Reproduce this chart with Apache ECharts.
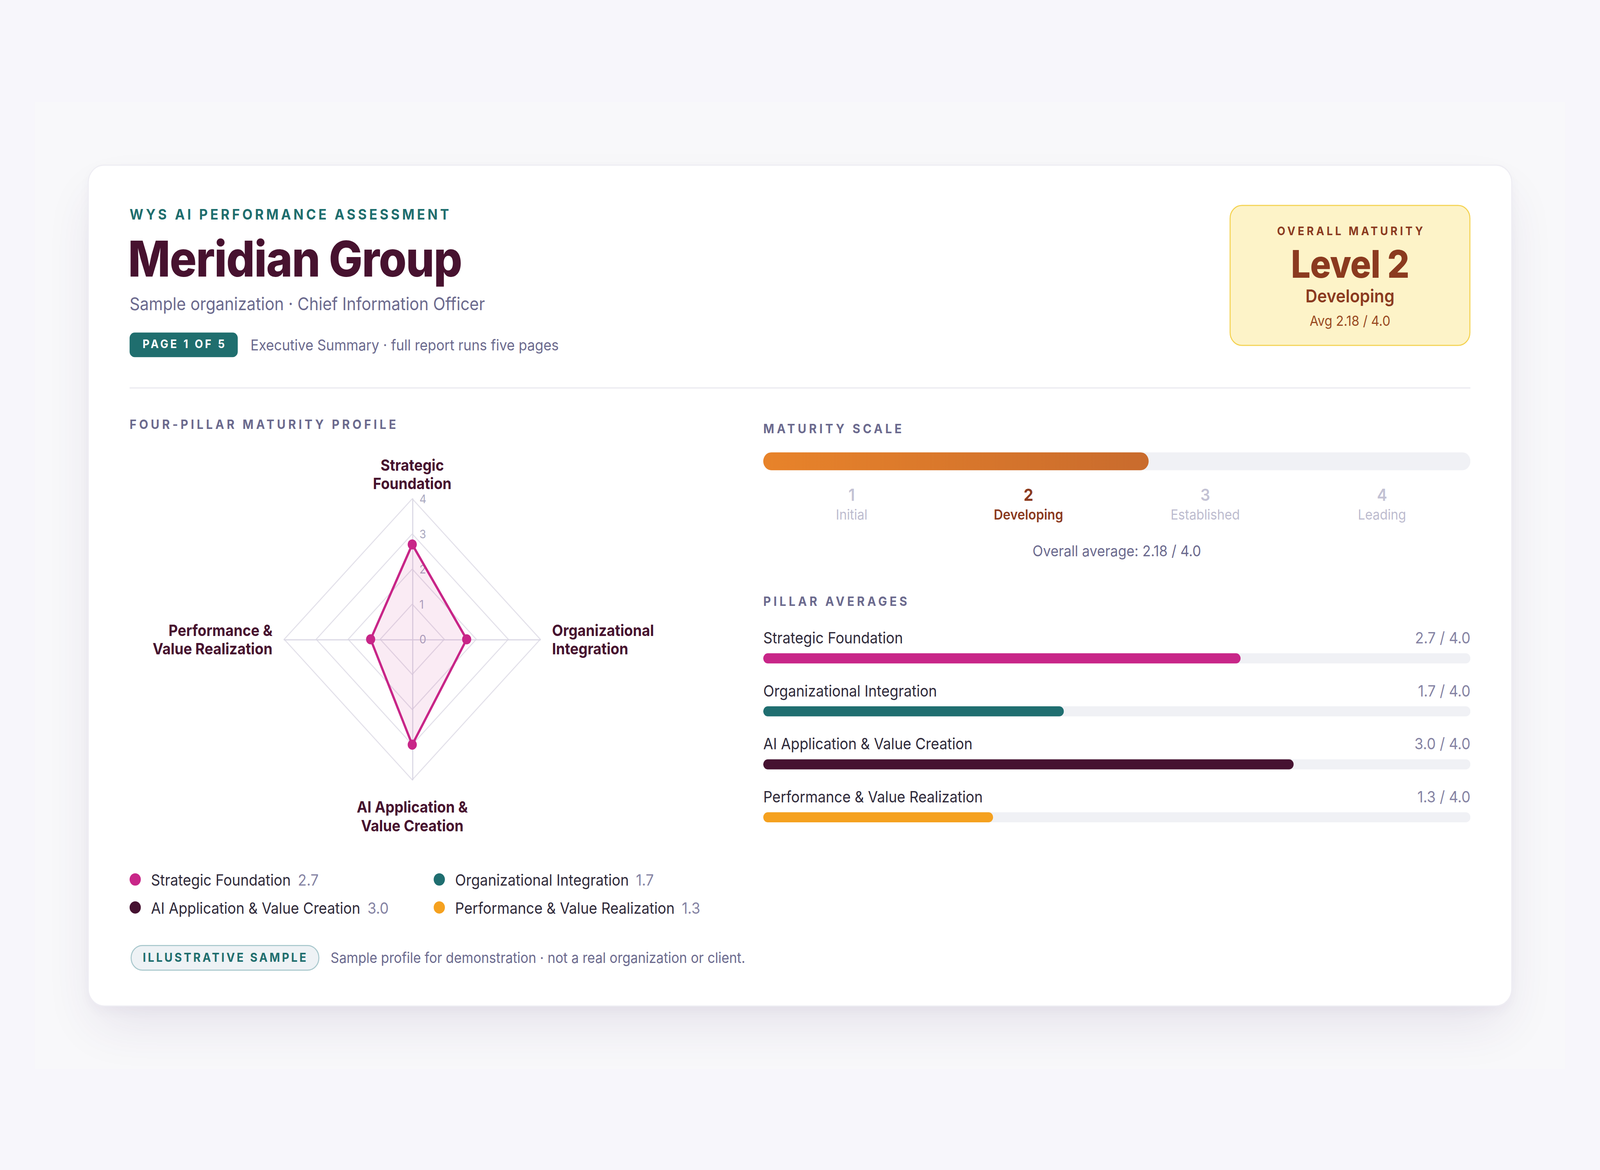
<!DOCTYPE html>
<html>
<head>
<meta charset="utf-8">
<title>Meridian Group — WYS AI Performance Assessment</title>
<script src="https://cdn.jsdelivr.net/npm/echarts@6.0.0/dist/echarts.min.js"></script>
<style>
  html, body { margin:0; padding:0; width:100%; height:100%; overflow:hidden; background:#f7f6fb; }
  #stage { position:absolute; left:0; top:0; width:1568px; height:1045px; transform-origin:0 0; font-family:Inter,'Noto Sans',sans-serif; }
  .a { position:absolute; white-space:nowrap; }
  #panel { left:34px; top:91px; width:1500px; height:864px; background:#f8f8fa; }
  #card { left:86px; top:147px; width:1394px; height:750px; background:#fff; border:1px solid #eeedf3; border-radius:16px; box-shadow:0 22px 48px -8px rgba(75,45,105,0.11), 0 4px 10px rgba(75,45,105,0.03); }
  .eyebrow { left:127px; top:182.6px; font-size:13px; line-height:16px; font-weight:700; letter-spacing:2.45px; color:#1f6e6e; }
  .title { left:125.5px; top:209px; font-size:44px; line-height:44px; font-weight:800; letter-spacing:-0.7px; color:#47122f; }
  .sub { left:127px; top:263.2px; font-size:15.7px; line-height:18px; color:#6b6a8e; }
  .badge { left:127px; top:297.3px; width:106px; height:21.3px; line-height:21.3px; background:#1f6e6e; border-radius:5px; color:#fff; font-size:10.5px; font-weight:700; letter-spacing:2px; text-align:center; text-indent:2px; }
  .exec { left:245.5px; top:299.7px; font-size:13.5px; line-height:17px; color:#6b6a8e; }
  .divider { left:127px; top:345.5px; width:1314px; height:1px; background:#e9e8ef; }
  #mbox { left:1205px; top:182.7px; width:233.5px; height:124px; background:#fdf3c8; border:1.5px solid #f4d250; border-radius:12px; }
  .mtxt { left:1205px; width:236px; text-align:center; color:#8b3a1f; }
  .m1 { top:199.8px; font-size:10.5px; line-height:14px; font-weight:700; letter-spacing:2.4px; text-indent:2.4px; }
  .m2 { top:216.5px; font-size:34px; line-height:38px; font-weight:800; letter-spacing:-0.4px; }
  .m3 { top:254.5px; font-size:16px; line-height:19px; font-weight:600; }
  .m4 { top:279px; font-size:12.5px; line-height:16px; color:#9a4a22; }
  .sect { font-size:11.5px; line-height:14px; font-weight:700; letter-spacing:2.6px; color:#6b6a8e; }
  #radar { left:100px; top:390px; width:610px; height:370px; }
  #scale { left:748px; top:395px; width:693px; height:82px; }
  #pillars { left:748px; top:545px; width:693px; height:215px; }
  .avg { left:748px; width:693px; top:483.8px; text-align:center; font-size:13.5px; line-height:16px; color:#6b6a8e; }
  .lg { position:absolute; display:flex; align-items:center; height:20px; white-space:nowrap; font-size:14px; color:#2f2a3a; }
  .lg .dot { width:11px; height:11px; border-radius:50%; margin-right:10px; flex:none; }
  .lg .val { margin-left:7px; color:#8583a3; }
  .pill { left:127.5px; top:843.8px; width:183px; height:21px; line-height:21px; border:1.3px solid #a9c8cd; background:#eef2f5; border-radius:12px; text-align:center; font-size:11px; font-weight:700; letter-spacing:1.9px; text-indent:1.9px; color:#1f6e6e; }
  .note { left:324px; top:847px; font-size:13px; line-height:16px; color:#6b6a8e; }
</style>
</head>
<body>
<div id="stage">
  <div class="a" id="panel"></div>
  <div class="a" id="card"></div>

  <div class="a eyebrow">WYS AI PERFORMANCE ASSESSMENT</div>
  <div class="a title">Meridian Group</div>
  <div class="a sub">Sample organization · Chief Information Officer</div>
  <div class="a badge">PAGE 1 OF 5</div>
  <div class="a exec">Executive Summary · full report runs five pages</div>
  <div class="a divider"></div>

  <div class="a" id="mbox"></div>
  <div class="a mtxt m1">OVERALL MATURITY</div>
  <div class="a mtxt m2" id="mLevel"></div>
  <div class="a mtxt m3" id="mName"></div>
  <div class="a mtxt m4" id="mAvg"></div>

  <div class="a sect" style="left:127px;top:371.5px;">FOUR-PILLAR MATURITY PROFILE</div>
  <div class="a sect" style="left:748px;top:375.9px;">MATURITY SCALE</div>
  <div class="a sect" style="left:748px;top:530.3px;">PILLAR AVERAGES</div>

  <div class="a" id="radar"></div>
  <div class="a" id="scale"></div>
  <div class="a avg" id="avgLine"></div>
  <div class="a" id="pillars"></div>

  <div id="legend"></div>

  <div class="a pill">ILLUSTRATIVE SAMPLE</div>
  <div class="a note">Sample profile for demonstration · not a real organization or client.</div>
</div>

<script>
// ---------------- DATA ----------------
const PILLARS = ['Strategic Foundation', 'Organizational Integration', 'AI Application & Value Creation', 'Performance & Value Realization'];
const RADAR_NAMES = ['Strategic\nFoundation', 'Organizational\nIntegration', 'AI Application &\nValue Creation', 'Performance &\nValue Realization'];
const SCORES = [2.7, 1.7, 3.0, 1.3];
const PILLAR_COLORS = ['#c82688', '#1f6e70', '#461231', '#f5a11f'];
const SCALE_MIN = 0;
const SCALE_MAX = 4;
const LEVELS = ['1', '2', '3', '4'];
const LEVEL_NAMES = ['Initial', 'Developing', 'Established', 'Leading'];
const OVERALL_AVG = 2.18;
const CURRENT_LEVEL = 2;

// ---------------- FIT STAGE TO THE WINDOW FRAME ----------------
const stage = document.getElementById('stage');
const sx = window.innerWidth / 1568;
const sy = window.innerHeight / 1045;
stage.style.transform = 'scale(' + sx + ',' + sy + ')';

// ---------------- TEXT ----------------
document.getElementById('mLevel').textContent = 'Level ' + CURRENT_LEVEL;
document.getElementById('mName').textContent = LEVEL_NAMES[CURRENT_LEVEL - 1];
document.getElementById('mAvg').textContent = 'Avg ' + OVERALL_AVG.toFixed(2) + ' / ' + SCALE_MAX.toFixed(1);
document.getElementById('avgLine').textContent = 'Overall average: ' + OVERALL_AVG.toFixed(2) + ' / ' + SCALE_MAX.toFixed(1);

// legend (2 x 2)
const legendPos = [[127, 775.4], [425, 775.4], [127, 800.4], [425, 800.4]];
const legendEl = document.getElementById('legend');
PILLARS.forEach((p, i) => {
  const d = document.createElement('div');
  d.className = 'lg';
  d.style.left = legendPos[i][0] + 'px';
  d.style.top = legendPos[i][1] + 'px';
  d.innerHTML = '<span class="dot" style="background:' + PILLAR_COLORS[i] + '"></span><span></span><span class="val"></span>';
  d.children[1].textContent = p;
  d.children[2].textContent = SCORES[i].toFixed(1);
  legendEl.appendChild(d);
});

const FONT = 'Inter';

// ---------------- RADAR ----------------
// ECharts places indicators counter-clockwise from the top; order so that pillars run clockwise.
const RADAR_ORDER = [0, 3, 2, 1];
const NAME_GAPS = [5.5, 11.5, 16, 11.5]; // top, left, bottom, right
const radarChart = echarts.init(document.getElementById('radar'), null, { renderer: 'svg' });
radarChart.setOption({
  animation: false,
  radar: {
    center: [304, 181],
    radius: 125.5,
    startAngle: 90,
    shape: 'polygon',
    splitNumber: 4,
    axisName: { color: '#47122f', fontSize: 14, fontWeight: 700, fontFamily: FONT, lineHeight: 16.5 },
    axisLine: { lineStyle: { color: '#d8d6e3', width: 1 } },
    splitLine: { lineStyle: { color: '#e3e1ea', width: 1 } },
    splitArea: { show: false },
    axisTick: { show: false },
    axisLabel: { show: false },
    indicator: RADAR_ORDER.map((idx, k) => {
      const ind = { name: RADAR_NAMES[idx], min: SCALE_MIN, max: SCALE_MAX, nameGap: NAME_GAPS[k], nameMoveOverlap: false };
      if (k === 0) {
        ind.axisLabel = { show: true, color: '#a9a8c0', fontSize: 10.5, lineHeight: 11, fontFamily: FONT, margin: -7, align: 'left', verticalAlign: 'middle' };
      }
      return ind;
    })
  },
  series: [{
    type: 'radar',
    silent: true,
    symbol: 'circle',
    symbolSize: 9,
    lineStyle: { color: PILLAR_COLORS[0], width: 2.2 },
    itemStyle: { color: PILLAR_COLORS[0] },
    areaStyle: { color: 'rgba(200,38,136,0.13)' },
    data: [{ name: 'Meridian Group', value: RADAR_ORDER.map(i => SCORES[i]) }]
  }]
});

// ---------------- MATURITY SCALE ----------------
const scaleChart = echarts.init(document.getElementById('scale'), null, { renderer: 'svg' });
scaleChart.setOption({
  animation: false,
  grid: { left: 0, right: 0, top: 9, height: 16, outerBoundsMode: 'none' },
  xAxis: [
    { type: 'value', min: SCALE_MIN, max: SCALE_MAX, show: false },
    {
      type: 'category', data: LEVELS, position: 'bottom', boundaryGap: true,
      axisLine: { show: false, onZero: false }, axisTick: { show: false }, splitLine: { show: false },
      axisLabel: {
        interval: 0, margin: 13, fontFamily: FONT,
        formatter: (v, i) => (i === CURRENT_LEVEL - 1)
          ? '{na|' + v + '}\n{ta|' + LEVEL_NAMES[i] + '}'
          : '{n|' + v + '}\n{t|' + LEVEL_NAMES[i] + '}',
        rich: {
          n: { fontSize: 15, fontWeight: 600, lineHeight: 18, color: '#c3c2d4', fontFamily: FONT, align: 'center' },
          t: { fontSize: 12.5, lineHeight: 17, color: '#bdbccf', fontFamily: FONT, align: 'center' },
          na: { fontSize: 15, fontWeight: 700, lineHeight: 18, color: '#8b3a1f', fontFamily: FONT, align: 'center' },
          ta: { fontSize: 12.5, fontWeight: 600, lineHeight: 17, color: '#8b3a1f', fontFamily: FONT, align: 'center' }
        }
      }
    }
  ],
  yAxis: { type: 'category', data: ['Overall'], show: false },
  series: [{
    type: 'bar', xAxisIndex: 0, silent: true,
    data: [OVERALL_AVG],
    barWidth: 16,
    showBackground: true,
    backgroundStyle: { color: '#f0f1f5', borderRadius: 8 },
    itemStyle: {
      borderRadius: 8,
      color: new echarts.graphic.LinearGradient(0, 0, 1, 0, [
        { offset: 0, color: '#e8832a' },
        { offset: 1, color: '#c96b2d' }
      ])
    }
  }]
});

// ---------------- PILLAR AVERAGES ----------------
const pillarChart = echarts.init(document.getElementById('pillars'), null, { renderer: 'svg' });
const catAxisBase = {
  type: 'category', data: PILLARS, inverse: true,
  axisLine: { show: false }, axisTick: { show: false }, splitLine: { show: false }
};
pillarChart.setOption({
  animation: false,
  grid: { left: 0, right: 0, top: 19.35, height: 189.3, outerBoundsMode: 'none', containLabel: false },
  xAxis: { type: 'value', min: SCALE_MIN, max: SCALE_MAX, show: false },
  yAxis: [
    Object.assign({}, catAxisBase, {
      position: 'left',
      axisLabel: { inside: true, margin: 0, align: 'left', verticalAlign: 'bottom', padding: [0, 0, 10, 0], lineHeight: 17, color: '#2f2a3a', fontSize: 14, fontFamily: FONT }
    }),
    Object.assign({}, catAxisBase, {
      position: 'right',
      axisLabel: {
        inside: true, margin: 0, align: 'right', verticalAlign: 'bottom', padding: [0, 0, 10, 0], lineHeight: 17, color: '#8583a3', fontSize: 14, fontFamily: FONT,
        formatter: (v, i) => SCORES[i].toFixed(1) + ' / ' + SCALE_MAX.toFixed(1)
      }
    })
  ],
  series: [{
    type: 'bar', yAxisIndex: 0, silent: true,
    data: SCORES.map((v, i) => ({ value: v, itemStyle: { color: PILLAR_COLORS[i] } })),
    barWidth: 9,
    showBackground: true,
    backgroundStyle: { color: '#f0f1f5', borderRadius: 4.5 },
    itemStyle: { borderRadius: 4.5 }
  }]
});
</script>
</body>
</html>
